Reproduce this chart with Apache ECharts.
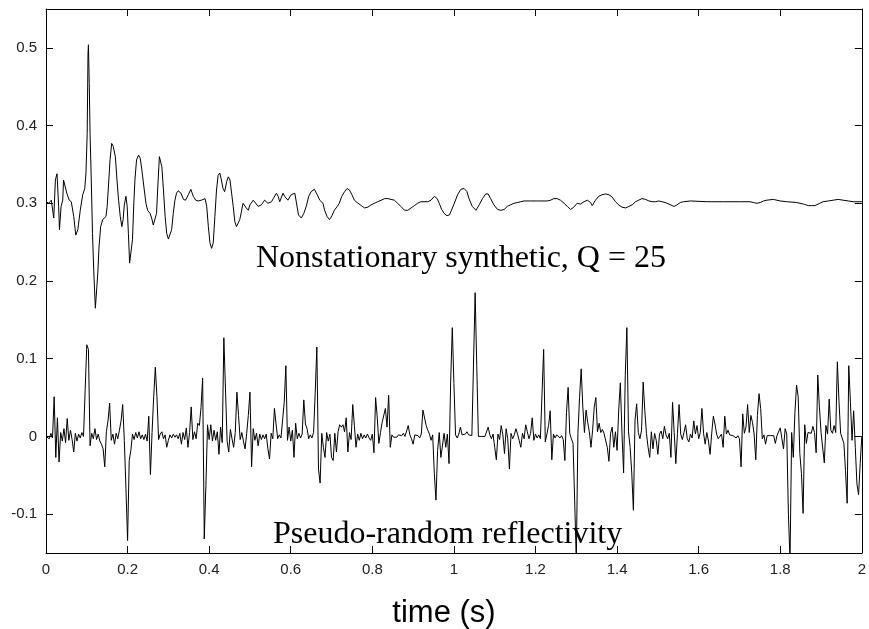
<!DOCTYPE html>
<html>
<head>
<meta charset="utf-8">
<script src="https://cdn.jsdelivr.net/npm/echarts@6/dist/echarts.min.js"></script>
<style>
html,body{margin:0;padding:0;background:#fff;}
#chart{width:869px;height:629px;}
</style>
</head>
<body>
<div id="chart"></div>
<script>
// ---- data ----
const xTickInterval = 0.2;
const xMin = 0, xMax = 2;
const yMin = -0.15, yMax = 0.55;
const yTickValues = [-0.1, 0, 0.1, 0.2, 0.3, 0.4, 0.5];

// Nonstationary synthetic trace: [time (s), amplitude]
const syntheticTrace = [
[0,0.302],[0.0065,0.300],[0.013,0.304],[0.019,0.281],[0.023,0.330],[0.027,0.338],[0.031,0.296],[0.033,0.266],
[0.037,0.296],[0.041,0.304],[0.043,0.330],[0.046,0.328],[0.051,0.313],[0.057,0.304],[0.062,0.302],[0.068,0.283],
[0.073,0.259],[0.078,0.266],[0.084,0.291],[0.090,0.311],[0.095,0.319],[0.098,0.339],[0.101,0.390],[0.103,0.493],
[0.104,0.504],[0.106,0.454],[0.108,0.390],[0.111,0.330],[0.114,0.261],[0.117,0.214],[0.121,0.165],[0.127,0.210],
[0.130,0.244],[0.134,0.270],[0.139,0.279],[0.143,0.281],[0.147,0.283],[0.150,0.296],[0.153,0.321],[0.157,0.356],
[0.161,0.377],[0.165,0.373],[0.170,0.360],[0.174,0.330],[0.178,0.304],[0.182,0.283],[0.186,0.270],[0.189,0.279],
[0.192,0.298],[0.196,0.309],[0.199,0.296],[0.202,0.261],[0.205,0.223],[0.209,0.221],[0.212,0.253],[0.215,0.296],
[0.218,0.330],[0.222,0.356],[0.227,0.362],[0.231,0.358],[0.235,0.343],[0.240,0.321],[0.245,0.300],[0.249,0.291],
[0.255,0.287],[0.259,0.281],[0.263,0.272],[0.267,0.270],[0.271,0.287],[0.274,0.321],[0.278,0.360],[0.281,0.360],
[0.284,0.347],[0.288,0.317],[0.292,0.283],[0.296,0.261],[0.300,0.254],[0.304,0.255],[0.308,0.266],[0.312,0.287],
[0.316,0.304],[0.320,0.313],[0.324,0.316],[0.331,0.313],[0.337,0.305],[0.342,0.304],[0.349,0.311],[0.355,0.318],
[0.361,0.309],[0.367,0.304],[0.373,0.303],[0.381,0.304],[0.390,0.306],[0.394,0.296],[0.398,0.270],[0.402,0.249],
[0.406,0.242],[0.410,0.249],[0.414,0.283],[0.418,0.317],[0.422,0.336],[0.426,0.339],[0.430,0.330],[0.434,0.319],
[0.438,0.315],[0.443,0.328],[0.447,0.334],[0.451,0.330],[0.455,0.313],[0.459,0.296],[0.463,0.276],[0.467,0.270],
[0.471,0.271],[0.475,0.279],[0.479,0.289],[0.483,0.300],[0.487,0.302],[0.491,0.294],[0.496,0.291],[0.500,0.298],
[0.504,0.300],[0.508,0.304],[0.512,0.302],[0.520,0.296],[0.528,0.298],[0.536,0.304],[0.544,0.300],[0.553,0.302],
[0.557,0.306],[0.565,0.313],[0.569,0.309],[0.573,0.302],[0.577,0.304],[0.581,0.313],[0.585,0.309],[0.593,0.304],
[0.601,0.311],[0.610,0.313],[0.619,0.285],[0.626,0.281],[0.632,0.287],[0.638,0.296],[0.644,0.309],[0.650,0.315],
[0.658,0.318],[0.665,0.311],[0.671,0.304],[0.679,0.300],[0.683,0.291],[0.689,0.283],[0.695,0.279],[0.701,0.284],
[0.707,0.291],[0.714,0.296],[0.719,0.300],[0.725,0.309],[0.732,0.315],[0.738,0.319],[0.744,0.317],[0.750,0.311],
[0.756,0.304],[0.765,0.300],[0.773,0.297],[0.781,0.294],[0.789,0.295],[0.797,0.298],[0.805,0.300],[0.813,0.302],
[0.822,0.304],[0.830,0.306],[0.838,0.306],[0.846,0.305],[0.854,0.304],[0.862,0.300],[0.870,0.296],[0.879,0.291],
[0.887,0.291],[0.895,0.294],[0.903,0.297],[0.911,0.300],[0.919,0.302],[0.936,0.302],[0.944,0.304],[0.952,0.309],
[0.959,0.306],[0.964,0.300],[0.970,0.292],[0.976,0.287],[0.983,0.284],[0.989,0.285],[0.994,0.291],[1.001,0.300],
[1.009,0.311],[1.017,0.318],[1.025,0.319],[1.032,0.315],[1.037,0.306],[1.045,0.296],[1.054,0.291],[1.062,0.298],
[1.070,0.306],[1.078,0.312],[1.084,0.312],[1.090,0.306],[1.098,0.298],[1.107,0.292],[1.115,0.291],[1.123,0.292],
[1.131,0.296],[1.139,0.298],[1.147,0.300],[1.156,0.301],[1.164,0.302],[1.172,0.303],[1.188,0.303],[1.205,0.303],
[1.221,0.303],[1.229,0.303],[1.237,0.304],[1.245,0.306],[1.253,0.306],[1.261,0.304],[1.270,0.300],[1.278,0.296],
[1.286,0.292],[1.294,0.295],[1.302,0.300],[1.310,0.299],[1.319,0.302],[1.327,0.304],[1.335,0.301],[1.339,0.297],
[1.347,0.304],[1.355,0.309],[1.363,0.311],[1.372,0.312],[1.380,0.311],[1.388,0.308],[1.396,0.302],[1.404,0.298],
[1.412,0.295],[1.421,0.294],[1.429,0.296],[1.437,0.298],[1.445,0.302],[1.453,0.304],[1.461,0.306],[1.470,0.305],
[1.478,0.303],[1.486,0.302],[1.494,0.302],[1.502,0.303],[1.510,0.302],[1.518,0.301],[1.527,0.299],[1.535,0.297],
[1.540,0.296],[1.547,0.298],[1.555,0.301],[1.563,0.302],[1.580,0.303],[1.620,0.302],[1.661,0.302],[1.702,0.302],
[1.726,0.302],[1.734,0.301],[1.743,0.300],[1.751,0.301],[1.759,0.303],[1.767,0.304],[1.783,0.305],[1.800,0.303],
[1.816,0.302],[1.840,0.301],[1.857,0.299],[1.869,0.297],[1.877,0.297],[1.885,0.297],[1.897,0.300],[1.905,0.302],
[1.918,0.303],[1.930,0.304],[1.942,0.305],[1.954,0.304],[1.967,0.303],[1.979,0.302],[2.000,0.302]
];

// Pseudo-random reflectivity, sampled every 0.004 s from 0 s, values x 1000
const reflStart = 0;
const reflStep = 0.004;
const reflectivityX1000 = [
0,2,-3,4,-2,51,-27,24,-33,5,-6,10,-8,23,-5,8,-4,-20,4,-6,3,-2,5,0,60,
118,112,-12,4,-3,10,-4,3,-6,-10,-16,-39,6,20,43,-5,3,-10,4,-3,8,20,41,-5,-67,
-134,-31,-18,3,-4,5,-2,6,-3,2,-4,3,-6,26,-49,5,51,89,51,-4,3,6,-3,2,-14,
-5,2,-2,3,-1,2,-3,4,-10,5,-4,11,-14,5,38,-4,6,-3,17,14,37,75,-132,-63,15,
-4,15,-6,8,-5,6,-23,12,-8,127,61,-6,-20,9,-3,-14,5,57,27,-4,5,-6,-16,4,27,
57,-39,10,-5,4,-12,3,-4,2,-3,3,-16,-29,4,-3,36,16,-3,2,-2,-4,44,91,-5,12,
-6,8,-27,17,-3,4,-2,3,47,16,10,-3,2,-2,5,57,115,-42,-60,4,-14,-27,5,-6,3,
-27,-31,4,-20,6,15,12,15,6,24,-20,5,-4,41,14,-14,3,-5,4,-3,2,-2,3,-2,-5,
3,-21,50,25,-9,5,18,20,36,12,53,-14,2,-1,1,-1,2,0,1,4,0,-2,14,2,-3,
-10,2,0,1,-2,3,34,33,14,8,3,-5,2,-48,-82,-18,5,-27,-27,4,-14,3,-35,70,140,
68,2,-2,3,12,2,4,3,6,2,0,1,0,185,91,0,1,0,2,0,-2,12,2,-3,3,
-14,-30,3,-4,14,2,-22,10,-3,-42,4,-3,2,10,3,-5,-14,4,-3,15,6,-3,4,24,-5,
3,-2,2,-3,55,112,-7,3,14,33,-30,3,-2,2,3,-2,1,-4,-31,31,63,4,-3,-9,-82,
-160,4,50,87,38,5,34,18,6,-14,8,38,50,6,17,5,9,4,6,-14,-32,4,12,-14,6,
-18,34,69,4,-47,78,140,6,-14,-47,-95,21,42,5,-3,8,70,33,4,-14,-27,6,-16,4,-5,
-23,3,7,-3,13,2,-3,4,-27,44,5,-35,4,41,3,-4,5,15,-3,-7,3,-2,20,3,14,
-3,5,36,4,-10,5,-6,-23,4,26,16,3,-3,-5,3,-14,26,3,8,2,3,1,2,-2,1,
-3,-39,29,4,12,41,5,27,18,3,-30,27,55,36,-3,2,-10,1,0,1,0,1,-9,1,0,
11,-3,-16,10,3,-100,-160,5,-27,31,66,51,-22,-48,-99,15,-9,5,3,4,13,5,-21,79,38,
5,3,-34,14,3,48,8,4,14,5,96,45,4,2,-9,-44,-86,91,44,-5,33,-14,-61,-75,-35,
0
];

const labelSynthetic = 'Nonstationary synthetic, Q = 25';
const labelReflectivity = 'Pseudo-random reflectivity';
const xAxisTitle = 'time (s)';

// ---- chart ----
const reflData = reflectivityX1000.map((v, i) => [reflStart + i * reflStep, v / 1000]);

const chart = echarts.init(document.getElementById('chart'), null, {renderer: 'canvas'});
const axisLineStyle = {show: true, onZero: false, lineStyle: {color: '#000', width: 1}};
const tickStyle = {show: true, inside: true, length: 7, lineStyle: {color: '#000', width: 1}};
const labelFont = {color: '#222', fontFamily: 'Liberation Sans, Arial, sans-serif', fontSize: 15};

chart.setOption({
  animation: false,
  backgroundColor: '#fff',
  grid: {left: 46, right: 3, top: 9, bottom: 76, containLabel: false},
  xAxis: [
    {type: 'value', min: xMin, max: xMax, interval: xTickInterval, position: 'bottom',
     axisLine: axisLineStyle, axisTick: tickStyle, splitLine: {show: false},
     axisLabel: Object.assign({margin: 9, formatter: v => String(+v.toFixed(1))}, labelFont)},
    {type: 'value', min: xMin, max: xMax, interval: xTickInterval, position: 'top',
     axisLine: axisLineStyle, axisTick: tickStyle, splitLine: {show: false},
     axisLabel: {show: false}}
  ],
  yAxis: [
    {type: 'value', min: yMin, max: yMax, position: 'left',
     axisLine: axisLineStyle,
     axisTick: Object.assign({customValues: yTickValues}, tickStyle),
     splitLine: {show: false},
     axisLabel: Object.assign({margin: 9, customValues: yTickValues, formatter: v => String(+v.toFixed(2))}, labelFont)},
    {type: 'value', min: yMin, max: yMax, position: 'right',
     axisLine: axisLineStyle,
     axisTick: Object.assign({customValues: yTickValues}, tickStyle),
     splitLine: {show: false},
     axisLabel: {show: false}}
  ],
  series: [
    {type: 'line', name: 'synthetic', data: syntheticTrace, xAxisIndex: 0, yAxisIndex: 0,
     showSymbol: false, symbol: 'none', silent: true, clip: true,
     lineStyle: {color: '#000', width: 1}},
    {type: 'line', name: 'reflectivity', data: reflData, xAxisIndex: 0, yAxisIndex: 0,
     showSymbol: false, symbol: 'none', silent: true, clip: true,
     lineStyle: {color: '#000', width: 1}}
  ],
  graphic: [
    {type: 'text', x: 256, y: 259, silent: true,
     style: {text: labelSynthetic, font: '32px "Liberation Serif", "Times New Roman", serif', fill: '#000', textAlign: 'left', textVerticalAlign: 'middle'}},
    {type: 'text', x: 273, y: 535, silent: true,
     style: {text: labelReflectivity, font: '32px "Liberation Serif", "Times New Roman", serif', fill: '#000', textAlign: 'left', textVerticalAlign: 'middle'}},
    {type: 'text', x: 444, y: 613, silent: true,
     style: {text: xAxisTitle, font: '31px "Liberation Sans", Arial, sans-serif', fill: '#000', textAlign: 'center', textVerticalAlign: 'middle'}}
  ]
});
</script>
</body>
</html>
